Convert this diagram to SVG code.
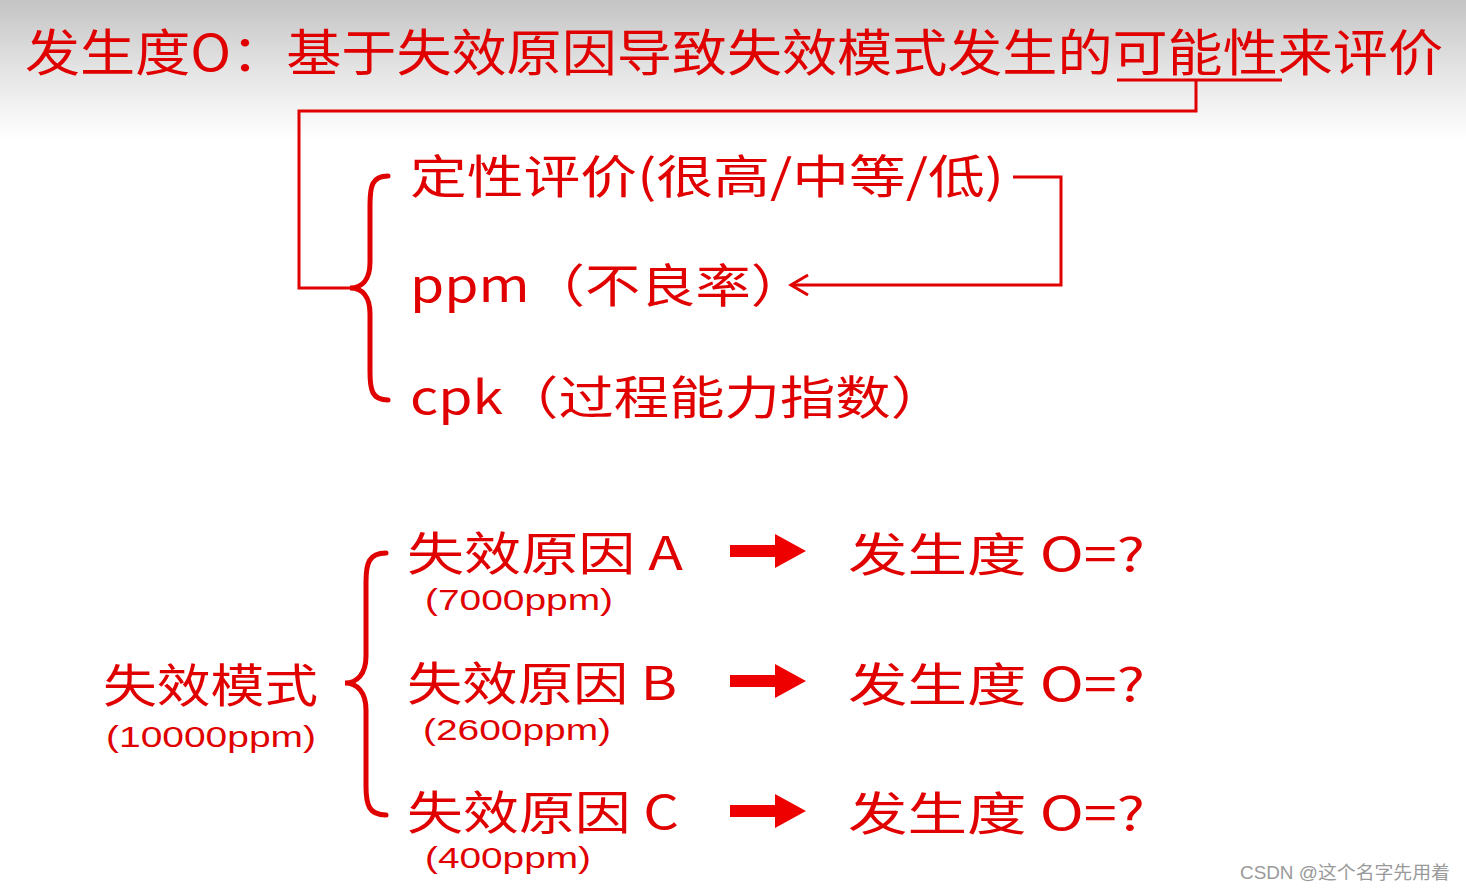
<svg xmlns="http://www.w3.org/2000/svg" width="1466" height="891" viewBox="0 0 1466 891">
<defs>
<linearGradient id="hdr" x1="0" y1="0" x2="0" y2="1">
<stop offset="0" stop-color="#c4c4c4"/>
<stop offset="0.5" stop-color="#e4e4e4"/>
<stop offset="1" stop-color="#ffffff"/>
</linearGradient>
</defs>
<style>
text{font-family:"Noto Sans CJK SC","Noto Sans",sans-serif;fill:#e00000}
.t{font-size:50px}
.l{font-size:46px}
.m{font-size:46px}
.s{font-size:29px;font-family:"Liberation Sans",Arial,sans-serif}
.ln{fill:none;stroke:#e00000;stroke-width:3}
.br{fill:none;stroke:#e00000;stroke-width:5;stroke-linecap:round}
.ar{fill:#ee0000}
</style>
<rect width="1466" height="891" fill="#ffffff"/>
<rect width="1466" height="140" fill="url(#hdr)"/>
<g id="title"><text class="t" x="25" y="71" textLength="1418" lengthAdjust="spacingAndGlyphs">发生度O：基于失效原因导致失效模式发生的可能性来评价</text></g>
<g id="methods">
<text class="l" x="410" y="193" textLength="594" lengthAdjust="spacingAndGlyphs">定性评价(很高/中等/低)</text>
<text class="l" x="410" y="302" textLength="396" lengthAdjust="spacingAndGlyphs">ppm（不良率）</text>
<text class="l" x="410" y="414" textLength="536" lengthAdjust="spacingAndGlyphs">cpk（过程能力指数）</text>
</g>
<g id="mode"><text class="m" x="103" y="702" textLength="215" lengthAdjust="spacingAndGlyphs">失效模式</text>
<text class="s" x="106" y="747" textLength="210" lengthAdjust="spacingAndGlyphs">(10000ppm)</text></g>
<g id="causeA"><text class="m" x="407" y="570" textLength="276" lengthAdjust="spacingAndGlyphs">失效原因 A</text>
<text class="s" x="425" y="610" textLength="188" lengthAdjust="spacingAndGlyphs">(7000ppm)</text></g>
<g id="causeB"><text class="m" x="407" y="700" textLength="270" lengthAdjust="spacingAndGlyphs">失效原因 B</text>
<text class="s" x="423" y="740" textLength="188" lengthAdjust="spacingAndGlyphs">(2600ppm)</text></g>
<g id="causeC"><text class="m" x="407" y="829" textLength="272" lengthAdjust="spacingAndGlyphs">失效原因 C</text>
<text class="s" x="425" y="868" textLength="166" lengthAdjust="spacingAndGlyphs">(400ppm)</text></g>
<g id="oA"><text class="m" x="848" y="571" textLength="297" lengthAdjust="spacingAndGlyphs">发生度 O=?</text></g>
<g id="oB"><text class="m" x="848" y="701" textLength="297" lengthAdjust="spacingAndGlyphs">发生度 O=?</text></g>
<g id="oC"><text class="m" x="848" y="830" textLength="297" lengthAdjust="spacingAndGlyphs">发生度 O=?</text></g>
<g id="connectors">
<path class="ln" d="M1117,80 H1282 M1196,80 V111 H299 V288 H350"/>
<path class="br" d="M388,176 C372,176 370,186 370,205 V262 C370,280 362,288 350,288 C362,288 370,296 370,314 V372 C370,390 372,400 388,400"/>
<path class="ln" d="M1013,177 H1061 V285 H791"/>
<path class="ln" d="M808,275 L791,285 L808,295"/>
<path class="br" d="M386,553 C369,553 366,563 366,582 V656 C366,674 357,683 345,683 C357,683 366,692 366,710 V786 C366,805 369,815 386,815"/>
<path class="ar" d="M730,545 H775 V534 L806,551 L775,568 V557 H730 Z"/>
<path class="ar" d="M730,675 H775 V664 L806,681 L775,698 V687 H730 Z"/>
<path class="ar" d="M730,805 H775 V794 L806,811 L775,828 V817 H730 Z"/>
</g>
<text x="1240" y="879" textLength="210" lengthAdjust="spacingAndGlyphs" style="font-family:'Liberation Sans','Noto Sans CJK SC',sans-serif;font-size:18px;fill:#9a9a9a">CSDN @这个名字先用着</text>
</svg>
